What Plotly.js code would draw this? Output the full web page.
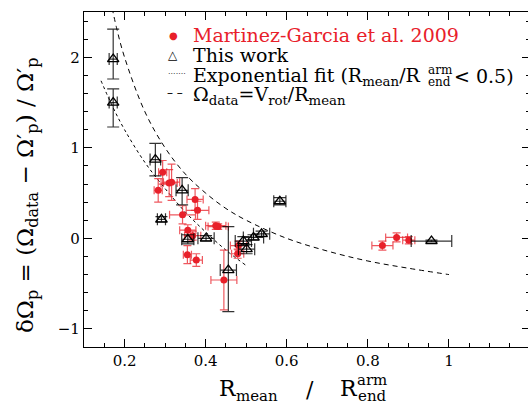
<!DOCTYPE html>
<html><head><meta charset="utf-8">
<script src="https://cdn.plot.ly/plotly-3.0.1.min.js"></script>
<style>html,body{margin:0;padding:0;overflow:hidden;background:#fff}#plot{width:530px;height:404px}</style>
</head><body><div id="plot"></div>
<script>
// Martinez-Garcia et al. 2009
const mgX    = [0.294,0.283,0.310,0.316,0.374,0.380,0.343,0.356,0.368,0.425,0.431,0.355,0.377,0.445,0.481,0.479,0.836,0.871,0.901];
const mgY    = [0.73, 0.53, 0.61, 0.62, 0.43, 0.31, 0.26, 0.09, 0.03, 0.14, 0.13,-0.18,-0.24,-0.46,-0.08,-0.17,-0.08, 0.01,-0.02];
const mgXerr = [0.010,0.010,0.020,0.020,0.020,0.028,0.032,0.020,0.020,0.025,0.025,0.010,0.015,0.032,0.020,0.015,0.026,0.027,0.015];
const mgYerr = [0.13, 0.13, 0.15, 0.20, 0.12, 0.10, 0.10, 0.06, 0.05, 0.04, 0.03, 0.10, 0.07, 0.33, 0.05, 0.05, 0.05, 0.05, 0.04];
// This work
const twX     = [0.172,0.172,0.276,0.342,0.291,0.356,0.401,0.456,0.493,0.501,0.518,0.538,0.583,0.957];
const twY     = [1.98, 1.50, 0.87, 0.53, 0.21,-0.01, 0.00,-0.35,-0.03,-0.12, 0.01, 0.05, 0.41,-0.03];
const twXerr  = [0.010,0.010,0.013,0.015,0.010,0.015,0.020,0.020,0.020,0.020,0.025,0.020,0.015,0.050];
const twYplus = [0.33, 0.15, 0.18, 0.14, 0.03, 0.05, 0.03, 0.48, 0.05, 0.05, 0.03, 0.03, 0.04, 0.01];
const twYminus= [0.22, 0.27, 0.18, 0.16, 0.03, 0.05, 0.03, 0.46, 0.05, 0.05, 0.03, 0.03, 0.04, 0.01];
// Exponential fit
const expX = [0.142,0.17,0.20,0.25,0.30,0.35,0.40,0.45,0.50];
const expY = [1.74, 1.46,1.20,0.84,0.55,0.29,0.07,-0.13,-0.30];
// Omega_data = V_rot / R_mean curve
const omX = [0.165,0.18,0.20,0.25,0.30,0.35,0.40,0.45,0.50,0.60,0.70,0.80,0.90,1.00];
const omY = [2.64, 2.33,2.00,1.40,1.00,0.71,0.50,0.33,0.20,0.00,-0.14,-0.25,-0.33,-0.40];
// ticks
const xTickVals = [0.2,0.4,0.6,0.8,1];
const xTickText = ['0.2','0.4','0.6','0.8','1'];
const yTickVals = [-1,0,1,2];
const yTickText = ['\u22121','0','1','2'];

const RED = '#e8202a';
const FONT = 'DejaVu Serif, Liberation Serif, serif';

const traces = [
  {x: expX, y: expY, mode:'lines', line:{color:'#000', width:1, dash:'dot', shape:'spline'}, hoverinfo:'skip'},
  {x: omX, y: omY, mode:'lines', line:{color:'#000', width:1, dash:'5px,4px', shape:'spline'}, hoverinfo:'skip'},
  {x: mgX, y: mgY, mode:'markers', marker:{color:RED, size:7},
   error_x:{type:'data', array:mgXerr, color:'rgba(232,32,42,0.75)', thickness:1.2, width:4},
   error_y:{type:'data', array:mgYerr, color:'rgba(232,32,42,0.75)', thickness:1.2, width:4}},
  {x: twX, y: twY, mode:'markers', marker:{symbol:'triangle-up-open', color:'#000', size:10, line:{width:1.3}},
   error_x:{type:'data', array:twXerr, color:'rgba(0,0,0,0.8)', thickness:1.2, width:6},
   error_y:{type:'data', symmetric:false, array:twYplus, arrayminus:twYminus, color:'rgba(0,0,0,0.8)', thickness:1.2, width:6}}
];

const L=84, T=12, PW=446, PH=335;
function px(x){return (x-L)/PW;}
function py(y){return (T+PH-y)/PH;}
function ann(text, x, y, size, opts){
  return Object.assign({text:text, x:px(x), y:py(y), xref:'paper', yref:'paper', showarrow:false,
    xanchor:'left', yanchor:'middle', font:{family:FONT, size:size, color:'#000'}}, opts||{});
}

const annotations = [
  // legend
  ann('\u25CF', 167, 35, 10, {font:{family:FONT,size:10,color:RED}}),
  ann('Martinez-Garcia et al. 2009', 191, 35, 19, {font:{family:FONT,size:19,color:RED}}),
  ann('\u25B3', 166, 55, 12),
  ann('This work', 191, 55, 19),
  ann('.......', 166, 72, 8),
  ann('Exponential fit (R<sub>mean</sub>/R', 191, 76, 19),
  ann('arm', 426, 70, 12),
  ann('end', 426, 82, 12),
  ann('< 0.5)', 452, 76, 19),
  ann('\u2013 \u2013', 165, 93, 12),
  ann('\u03A9<sub>data</sub>=V<sub>rot</sub>/R<sub>mean</sub>', 191, 95, 19),
  // x title
  ann('R', 217, 388, 22),
  ann('mean', 234, 396, 15),
  ann('/', 304, 389, 22),
  ann('R', 338, 388, 22),
  ann('arm', 355, 380, 15),
  ann('end', 356, 396, 15),
  // y title
  Object.assign(ann('\u03B4\u03A9<sub>p</sub> = (\u03A9<sub>data</sub> \u2212 \u03A9\u2032<sub>p</sub>) / \u03A9\u2032<sub>p</sub>', 27, 195, 23),
    {xanchor:'center', yanchor:'middle', textangle:-90})
];

const axBase = {showline:true, linecolor:'#000', linewidth:1.2, mirror:'ticks', ticks:'inside', ticklen:8, tickwidth:1,
  tickcolor:'#000', showgrid:false, zeroline:false, tickfont:{family:FONT, size:15, color:'#000'}};

const layout = {
  width:530, height:404, margin:{l:L, r:530-L-PW, t:T, b:404-T-PH},
  paper_bgcolor:'#fff', plot_bgcolor:'#fff', showlegend:false,
  xaxis: Object.assign({}, axBase, {range:[0.1,1.2], tickmode:'array', tickvals:xTickVals, ticktext:xTickText,
    minor:{dtick:0.05, tick0:0, ticks:'inside', ticklen:4, tickcolor:'#000', showgrid:false}}),
  yaxis: Object.assign({}, axBase, {range:[-1.2,2.5], tickmode:'array', tickvals:yTickVals, ticktext:yTickText,
    minor:{dtick:0.2, tick0:0, ticks:'inside', ticklen:4, tickcolor:'#000', showgrid:false}}),
  annotations: annotations
};

Plotly.newPlot('plot', traces, layout, {staticPlot:true, displayModeBar:false});
</script></body></html>
